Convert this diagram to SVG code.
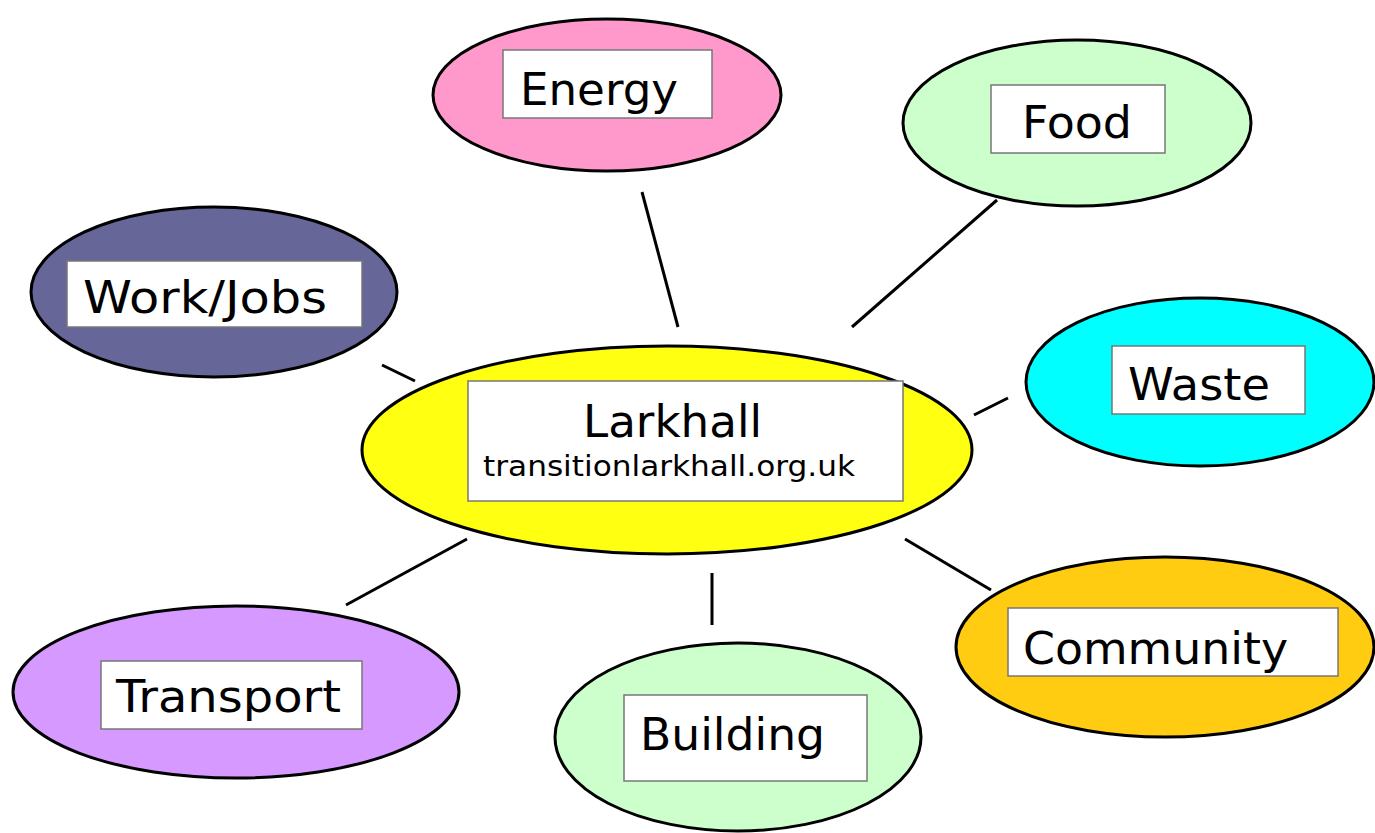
<svg xmlns="http://www.w3.org/2000/svg" width="1375" height="833" viewBox="0 0 1375 833">
<style>
.e{stroke:#000;stroke-width:3}
.b{fill:#fff;stroke:#777;stroke-width:1.5}
.t{font-family:"DejaVu Sans","Liberation Sans",sans-serif;font-size:45px;fill:#000}
.c line{stroke:#000;stroke-width:3}
</style>
<rect width="1375" height="833" fill="#fff"/>
<g class="c" id="connectors">
<line x1="642" y1="192" x2="678" y2="327"/>
<line x1="997" y1="200" x2="852" y2="327"/>
<line x1="382" y1="365" x2="415" y2="381"/>
<line x1="1008" y1="398" x2="974" y2="415"/>
<line x1="467" y1="539" x2="346" y2="605"/>
<line x1="712" y1="573" x2="712" y2="625"/>
<line x1="905" y1="539" x2="991" y2="590"/>
</g>
<g id="energy">
<ellipse class="e" cx="607" cy="95" rx="174" ry="76" fill="#ff99cc"/>
<rect class="b" x="503" y="50" width="209" height="68"/>
<text class="t" x="520" y="105" textLength="158" lengthAdjust="spacingAndGlyphs">Energy</text>
</g>
<g id="food">
<ellipse class="e" cx="1077" cy="123" rx="174" ry="83" fill="#ccffcc"/>
<rect class="b" x="991" y="85" width="174" height="68"/>
<text class="t" x="1022" y="138" textLength="110" lengthAdjust="spacingAndGlyphs">Food</text>
</g>
<g id="work">
<ellipse class="e" cx="214" cy="292" rx="183" ry="85" fill="#666699"/>
<rect class="b" x="67" y="261" width="295" height="66"/>
<text class="t" x="83" y="313" textLength="244" lengthAdjust="spacingAndGlyphs">Work/Jobs</text>
</g>
<g id="waste">
<ellipse class="e" cx="1200" cy="382" rx="174" ry="84" fill="#00ffff"/>
<rect class="b" x="1112" y="346" width="193" height="68"/>
<text class="t" x="1128" y="400" textLength="142" lengthAdjust="spacingAndGlyphs">Waste</text>
</g>
<g id="larkhall">
<ellipse class="e" cx="667" cy="450" rx="305" ry="104" fill="#ffff11"/>
<rect class="b" x="468" y="381" width="435" height="120"/>
<text class="t" x="583" y="437" textLength="179" lengthAdjust="spacingAndGlyphs">Larkhall</text>
<text class="t" x="483" y="476" style="font-size:28px" textLength="372" lengthAdjust="spacingAndGlyphs">transitionlarkhall.org.uk</text>
</g>
<g id="transport">
<ellipse class="e" cx="236" cy="692" rx="223" ry="86" fill="#d699ff"/>
<rect class="b" x="101" y="661" width="261" height="68"/>
<text class="t" x="116" y="712" textLength="225" lengthAdjust="spacingAndGlyphs">Transport</text>
</g>
<g id="building">
<ellipse class="e" cx="738" cy="737" rx="183" ry="94" fill="#ccffcc"/>
<rect class="b" x="624" y="695" width="243" height="86"/>
<text class="t" x="640" y="750" textLength="185" lengthAdjust="spacingAndGlyphs">Building</text>
</g>
<g id="community">
<ellipse class="e" cx="1165" cy="647" rx="209" ry="90" fill="#ffcc11"/>
<rect class="b" x="1008" y="608" width="330" height="68"/>
<text class="t" x="1023" y="664" textLength="265" lengthAdjust="spacingAndGlyphs">Community</text>
</g>
</svg>
